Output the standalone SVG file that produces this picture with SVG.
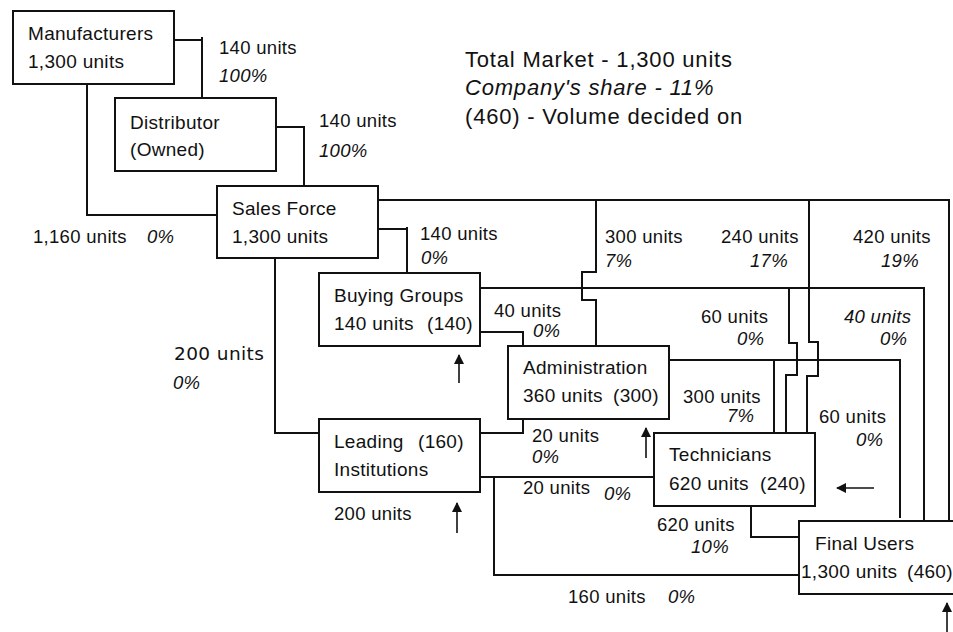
<svg xmlns="http://www.w3.org/2000/svg" width="953" height="632" viewBox="0 0 953 632">
<defs>
<style>
.box{fill:#fff;stroke:#111;stroke-width:2}
.c{fill:none;stroke:#111;stroke-width:2}
.t{font-family:"Liberation Sans",Arial,Helvetica,sans-serif;font-size:18.5px;letter-spacing:0.3px;fill:#111}
.n{font-size:19px}
.i{font-style:italic}
.ttl{font-size:22px;letter-spacing:0.8px}
.v{font-family:"DejaVu Sans",Verdana,sans-serif;font-size:18.5px;letter-spacing:0.4px}
.ar{fill:none;stroke:#111;stroke-width:1.6}
</style>
<marker id="ah" viewBox="0 0 10 10" refX="9" refY="5" markerWidth="10" markerHeight="10" markerUnits="userSpaceOnUse" orient="auto">
<path d="M0,0 L10,5 L0,10 z" fill="#111"/>
</marker>
</defs>
<rect width="953" height="632" fill="#fff"/>
<g id="connectors">
<path class="c" d="M174,40 H202 V98 M202,37 V41"/>
<path class="c" d="M276,127 H304 V186"/>
<path class="c" d="M87,84 V215 H217"/>
<path class="c" d="M275,258 V433 H319"/>
<path class="c" d="M378,229 H407 V273 M407,227 V230"/>
<path class="c" d="M378,200 H949 V521"/>
<path class="c" d="M596,200 V272 H582 V300 H596 V346"/>
<path class="c" d="M809,200 V342 H818 V376 H807 V433"/>
<path class="c" d="M480,288 H925 M924,288 V521"/>
<path class="c" d="M789,288 V343 H797 V375 H786 V433"/>
<path class="c" d="M480,332 H523 V346"/>
<path class="c" d="M669,360 H901 M900,360 V518"/>
<path class="c" d="M774,360 V433"/>
<path class="c" d="M480,433 H523 V419"/>
<path class="c" d="M480,477 H654"/>
<path class="c" d="M494,477 V575 H799"/>
<path class="c" d="M751,504 V537 H799"/>
<line class="ar" x1="459" y1="383" x2="459" y2="355" marker-end="url(#ah)"/>
<line class="ar" x1="646" y1="458" x2="646" y2="428" marker-end="url(#ah)"/>
<line class="ar" x1="457" y1="533" x2="457" y2="503" marker-end="url(#ah)"/>
<line class="ar" x1="874" y1="488" x2="837" y2="488" marker-end="url(#ah)"/>
<line class="ar" x1="947" y1="634" x2="947" y2="603" marker-end="url(#ah)"/>
</g>
<g id="manufacturers">
<rect class="box" x="13" y="11" width="161" height="73"/>
<text class="t n" x="28" y="40">Manufacturers</text>
<text class="t n" x="28" y="68">1,300 units</text>
</g>
<g id="distributor">
<rect class="box" x="115" y="98" width="161" height="73"/>
<text class="t n" x="130" y="129">Distributor</text>
<text class="t n" x="130" y="156">(Owned)</text>
</g>
<g id="sales-force">
<rect class="box" x="217" y="186" width="161" height="72"/>
<text class="t n" x="232" y="215">Sales Force</text>
<text class="t n" x="232" y="243">1,300 units</text>
</g>
<g id="buying-groups">
<rect class="box" x="319" y="273" width="161" height="73"/>
<text class="t n" x="334" y="302">Buying Groups</text>
<text class="t n" x="334" y="330">140 units</text>
<text class="t n" x="427" y="330">(140)</text>
</g>
<g id="administration">
<rect class="box" x="508" y="346" width="161" height="73"/>
<text class="t n" x="523" y="374">Administration</text>
<text class="t n" x="523" y="402">360 units</text>
<text class="t n" x="613" y="402">(300)</text>
</g>
<g id="leading-institutions">
<rect class="box" x="319" y="419" width="161" height="73"/>
<text class="t n" x="334" y="448">Leading</text>
<text class="t n" x="418" y="448">(160)</text>
<text class="t n" x="334" y="476">Institutions</text>
</g>
<g id="technicians">
<rect class="box" x="654" y="433" width="161" height="73"/>
<text class="t n" x="669" y="461">Technicians</text>
<text class="t n" x="669" y="490">620 units</text>
<text class="t n" x="760" y="490">(240)</text>
</g>
<g id="final-users">
<rect class="box" x="799" y="521" width="156" height="73"/>
<text class="t n" x="815" y="550">Final Users</text>
<text class="t n" x="801" y="578">1,300 units</text>
<text class="t n" x="907" y="578">(460)</text>
</g>
<g id="legend">
<text class="t ttl" x="465" y="67">Total Market - 1,300 units</text>
<text class="t ttl i" x="465" y="95">Company's share - 11%</text>
<text class="t ttl" x="465" y="124">(460) - Volume decided on</text>
</g>
<g id="labels">
<text class="t" x="219" y="54">140 units</text>
<text class="t i" x="219" y="82">100%</text>
<text class="t" x="319" y="127">140 units</text>
<text class="t i" x="319" y="157">100%</text>
<text class="t" x="33" y="243">1,160 units</text>
<text class="t i" x="147" y="243">0%</text>
<text class="t" x="420" y="240">140 units</text>
<text class="t i" x="421" y="264">0%</text>
<text class="t" x="605" y="243">300 units</text>
<text class="t i" x="605" y="267">7%</text>
<text class="t" x="721" y="243">240 units</text>
<text class="t i" x="750" y="267">17%</text>
<text class="t" x="853" y="243">420 units</text>
<text class="t i" x="881" y="267">19%</text>
<text class="t" x="494" y="317">40 units</text>
<text class="t i" x="533" y="337">0%</text>
<text class="t" x="701" y="323">60 units</text>
<text class="t i" x="737" y="345">0%</text>
<text class="t i" x="844" y="323">40 units</text>
<text class="t i" x="880" y="345">0%</text>
<text class="v" x="174" y="360" fill="#111">200 units</text>
<text class="t i" x="173" y="389">0%</text>
<text class="t" x="683" y="403">300 units</text>
<text class="t i" x="727" y="422">7%</text>
<text class="t" x="819" y="423">60 units</text>
<text class="t i" x="856" y="446">0%</text>
<text class="t" x="532" y="442">20 units</text>
<text class="t i" x="532" y="463">0%</text>
<text class="t" x="523" y="494">20 units</text>
<text class="t i" x="604" y="500">0%</text>
<text class="t" x="334" y="520">200 units</text>
<text class="t" x="657" y="531">620 units</text>
<text class="t i" x="691" y="553">10%</text>
<text class="t" x="568" y="603">160 units</text>
<text class="t i" x="668" y="603">0%</text>
</g>
</svg>
